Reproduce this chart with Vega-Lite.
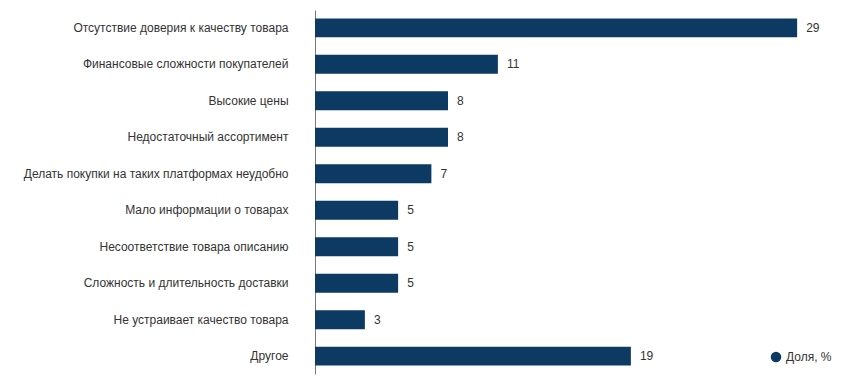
{
  "$schema": "https://vega.github.io/schema/vega-lite/v6.json",
  "autosize": {"type": "none"},
  "width": 532,
  "height": 364,
  "padding": {"left": 315, "top": 10, "right": 10, "bottom": 10},
  "background": "white",
  "config": {
    "view": {"stroke": null},
    "font": "Liberation Sans",
    "text": {"font": "Liberation Sans"}
  },
  "data": {
    "values": [
      {"reason": "Отсутствие доверия к качеству товара", "value": 29, "series": "Доля, %"},
      {"reason": "Финансовые сложности покупателей", "value": 11, "series": "Доля, %"},
      {"reason": "Высокие цены", "value": 8, "series": "Доля, %"},
      {"reason": "Недостаточный ассортимент", "value": 8, "series": "Доля, %"},
      {"reason": "Делать покупки на таких платформах неудобно", "value": 7, "series": "Доля, %"},
      {"reason": "Мало информации о товарах", "value": 5, "series": "Доля, %"},
      {"reason": "Несоответствие товара описанию", "value": 5, "series": "Доля, %"},
      {"reason": "Сложность и длительность доставки", "value": 5, "series": "Доля, %"},
      {"reason": "Не устраивает качество товара", "value": 3, "series": "Доля, %"},
      {"reason": "Другое", "value": 19, "series": "Доля, %"}
    ]
  },
  "encoding": {
    "y": {
      "field": "reason",
      "type": "nominal",
      "sort": null,
      "scale": {"paddingInner": 0.48, "paddingOuter": 0.23},
      "axis": {
        "title": null,
        "ticks": false,
        "domainColor": "#777777",
        "domainWidth": 1,
        "labelFontSize": 12,
        "labelColor": "#333333",
        "labelPadding": 27,
        "labelLimit": 400,
        "labelFont": "Liberation Sans"
      }
    },
    "x": {
      "field": "value",
      "type": "quantitative",
      "scale": {"domain": [0, 32], "nice": false},
      "axis": null
    }
  },
  "layer": [
    {
      "mark": {"type": "bar"},
      "encoding": {
        "color": {
          "field": "series",
          "type": "nominal",
          "scale": {"range": ["#0c3a62"]},
          "legend": {
            "title": null,
            "orient": "none",
            "legendX": 455,
            "legendY": 341,
            "symbolType": "circle",
            "symbolSize": 110,
            "labelFontSize": 12,
            "labelColor": "#333333",
            "labelFont": "Liberation Sans"
          }
        }
      }
    },
    {
      "mark": {"type": "text", "align": "left", "baseline": "middle", "dx": 9, "fontSize": 12, "color": "#333333"},
      "encoding": {"text": {"field": "value", "type": "quantitative"}}
    }
  ]
}
